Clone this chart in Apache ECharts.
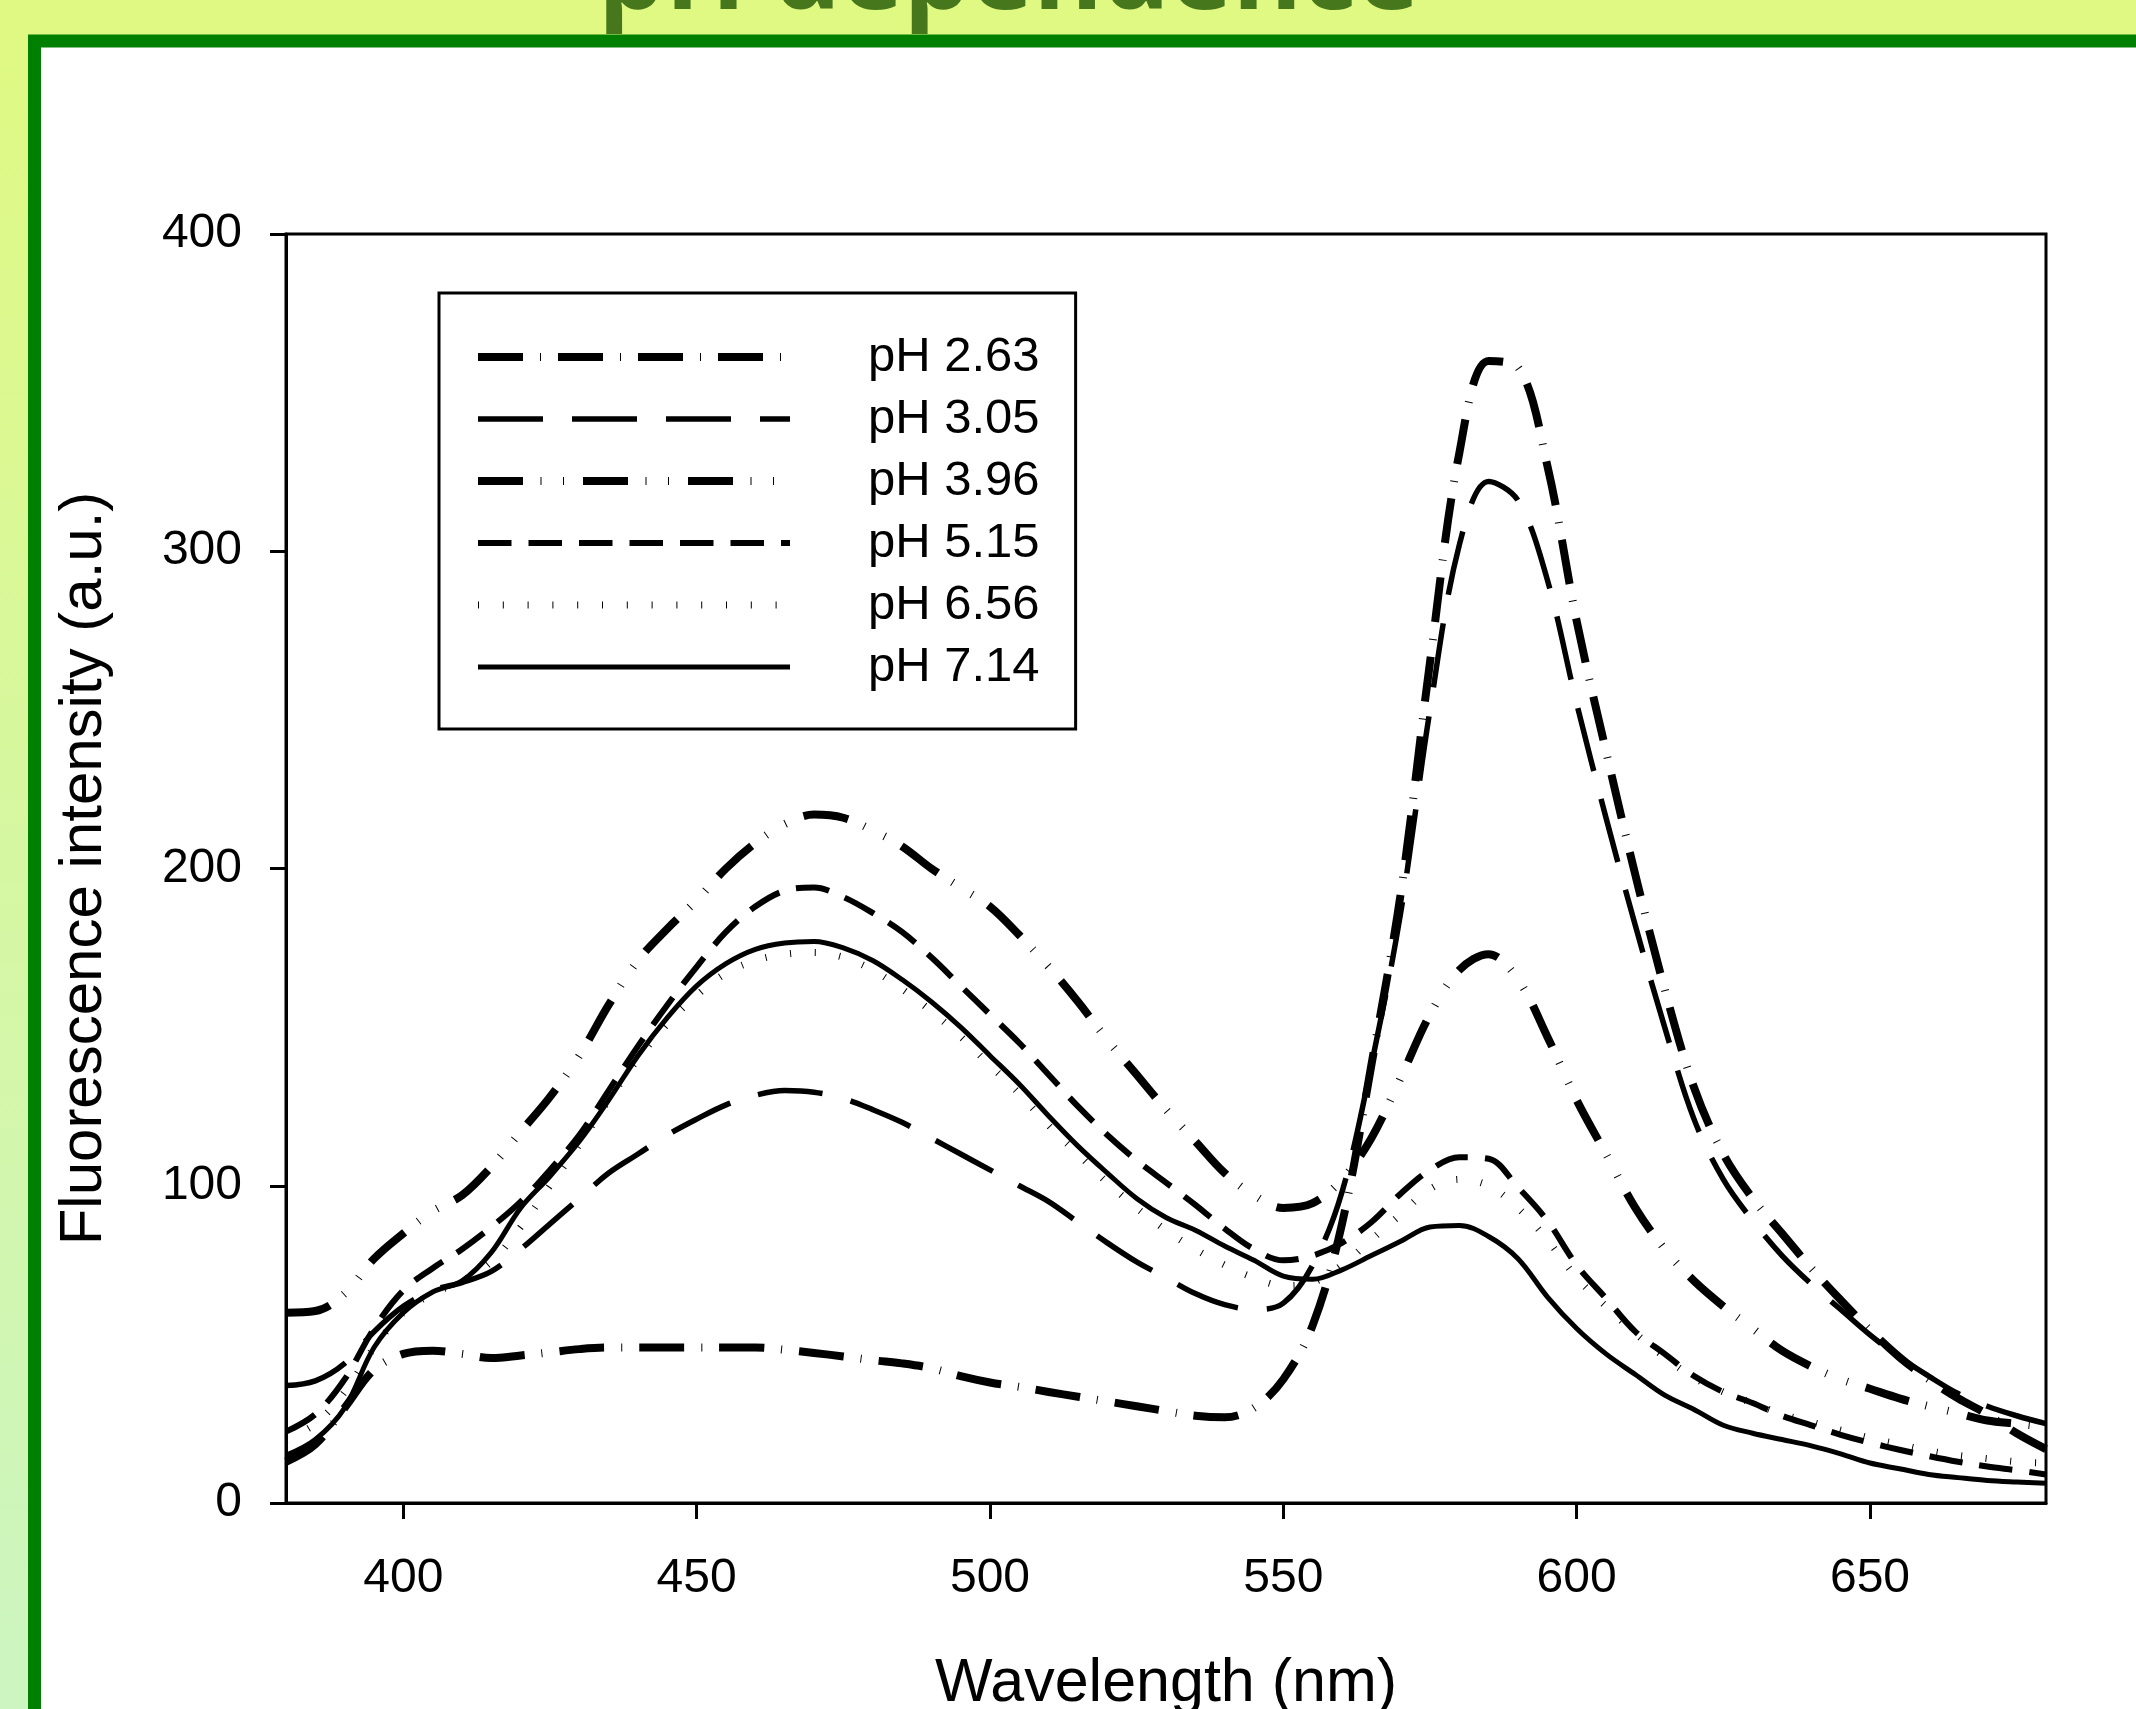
<!DOCTYPE html>
<html>
<head>
<meta charset="utf-8">
<script src="https://cdn.jsdelivr.net/npm/echarts@6/dist/echarts.min.js"></script>
<style>
html,body{margin:0;padding:0;width:2136px;height:1709px;overflow:hidden;background:#fff;}
#chart{width:2136px;height:1709px;}
</style>
</head>
<body>
<div id="chart"></div>
<script>
// ---- data ----
const wavelengths = [380,385,390,395,400,405,410,415,420,425,
  430,435,440,445,450,455,460,465,470,475,
  480,485,490,495,500,505,510,515,520,525,
  530,535,540,545,550,555,560,565,570,575,
  580,585,590,595,600,605,610,615,620,625,
  630,635,640,645,650,655,660,665,670,675,680];

const pH263 = [13,18.5,30,42,47,48,47,45.7,46.5,47.5,
  48.5,49,49,49,49,49,49,48.3,47.3,46.2,
  45,44,42.5,40,38,36.6,35,33.5,32,30.5,
  29,27.5,27,30,39,56,88,138,192,265,
  331,360,358,327,278,237,198,162,131,110,
  96,85,74,64,54.5,46,39,33,28,22,17];

const pH305 = [37,38.5,44,54,62,67,69.5,73,80,88,
  96,104,110,116,121,125.5,128.5,130,129.5,127.5,
  124,120,115,110,105,100,95,88.5,82,76,
  71,66,62.5,61,63,75,98,138,186,250,
  302,322,316,291,252,216,182,150,121,102,
  89,78,69,61,53,46,40,34.5,30.5,27.5,25];

const pH396 = [60,60.5,66,77,85,92,97,106,117,128,
  141,157,171,181,190,200,208,214,217,216,
  212,207,200,194,188,179,169,158,146,135,
  124,114,104,97,93,94.5,102,115,134,154,
  168,173,165,147,127,110,93,80,70,62,
  55,48,43,39,36,33,30.5,28.3,26,25,24];

const pH515 = [22.5,28,39,55,67,74,80,87,95,105,
  116,130,144,157,169,180,188,193,194,191,
  186,180,172,163,154,145,135,125,116,108,
  101,94,86.5,80,76.5,78,82,88.5,97.5,105,
  109,108.5,99.5,89,75,64.5,54,47,40,35,
  31.5,27.5,24.5,21.5,19,16.8,14.8,13,11.5,10.3,9];

const pH656 = [20,25,35,49,60,66,70,76,87,100,
  113,127,140,151,160,167,171,173,173.5,172,
  168,162,155,147,138,129,119,110,101,93,
  86,80,75,71,68.5,69.5,75,83,91,99,
  102,100,93,83,71,62,53.5,46,39.5,35,
  31.5,28,25.5,23,20.5,18.5,16.5,15,14,13,12.6];

const pH714 = [15,20,30,49,60,66.5,70,79,93,103,
  114,127,141,153,163,170,174.5,176.5,177,175,
  171,165,158,150,141,132,122,112.5,104,96,
  90,86,81,76.5,71.5,70.5,73.5,78,82.5,87,
  87.5,84,77,65,55,47,40.5,34,29.5,24.5,
  22,20,18,15.5,12.6,10.8,9,8,7.1,6.6,6.2];

const seriesNames = ['pH 2.63','pH 3.05','pH 3.96','pH 5.15','pH 6.56','pH 7.14'];
const seriesValues = [pH263, pH305, pH396, pH515, pH656, pH714];
const xTickValues = [400,450,500,550,600,650];
const yTickValues = [0,100,200,300,400];

// ---- styles ----
const lineStyles = [
  {width: 8, type: [45,17,1,17]},
  {width: 5.5, type: [65,29]},
  {width: 8, type: [45,17.5,1,21.5,1,19]},
  {width: 6, type: [33.5,17]},
  {width: 7, type: [1,23.8]},
  {width: 5, type: 'solid'}
];

const FONT = 'Liberation Sans, Arial, Helvetica, sans-serif';

const chart = echarts.init(document.getElementById('chart'), null, {renderer: 'canvas'});

const series = seriesNames.map((name, i) => ({
  name: name,
  type: 'line',
  data: wavelengths.map((w, j) => [w, seriesValues[i][j]]),
  showSymbol: false,
  symbol: 'none',
  smooth: 0.35,
  z: 3,
  color: '#000',
  itemStyle: {color: '#000'},
  lineStyle: {color: '#000', width: lineStyles[i].width, type: lineStyles[i].type, cap: 'butt', join: 'round'},
  emphasis: {disabled: true},
  animation: false
}));

chart.setOption({
  animation: false,
  graphic: [
    {type: 'rect', z: -10, silent: true,
     shape: {x: 0, y: 0, width: 2136, height: 1709},
     style: {fill: new echarts.graphic.LinearGradient(0, 0, 0, 1, [
       {offset: 0, color: '#e0f982'},
       {offset: 1, color: '#ccf5c1'}
     ])}},
    {type: 'rect', z: -9, silent: true,
     shape: {x: 34.5, y: 41, width: 2300, height: 1900},
     style: {fill: '#ffffff', stroke: '#008000', lineWidth: 13}}
  ],
  title: {
    text: 'pH dependence',
    left: 598,
    top: -74,
    padding: 0,
    z: 1,
    textStyle: {fontFamily: 'Open Sans, sans-serif', fontWeight: 'bold', fontSize: 106, color: '#47771d'}
  },
  grid: {
    left: 286, top: 234, right: 90, bottom: 206,
    outerBoundsMode: 'none',
    containLabel: false,
    show: true, borderColor: '#000', borderWidth: 3, backgroundColor: 'transparent'
  },
  legend: {
    data: seriesNames,
    orient: 'vertical',
    left: 439, top: 293,
    itemWidth: 312, itemHeight: 14, itemGap: 6,
    padding: [36, 36, 34, 35],
    borderColor: '#000', borderWidth: 3,
    selectedMode: false,
    itemStyle: {color: 'rgba(0,0,0,0)', borderColor: 'rgba(0,0,0,0)', borderWidth: 0, opacity: 0},
    lineStyle: {width: 'inherit', type: 'inherit', color: '#000', cap: 'butt'},
    textStyle: {fontFamily: FONT, fontSize: 49, color: '#000', lineHeight: 56, padding: [0,0,0,73]}
  },
  xAxis: {
    type: 'value', min: 380, max: 680,
    axisLine: {show: true, onZero: false, lineStyle: {color: '#000', width: 3}},
    axisTick: {show: true, length: 16, customValues: xTickValues, lineStyle: {color: '#000', width: 3}},
    axisLabel: {customValues: xTickValues, fontFamily: FONT, fontSize: 48, color: '#000', margin: 52},
    splitLine: {show: false},
    name: 'Wavelength (nm)', nameLocation: 'middle', nameGap: 151,
    nameTextStyle: {fontFamily: FONT, fontSize: 61, color: '#000'}
  },
  yAxis: {
    type: 'value', min: 0, max: 400, interval: 100,
    axisLine: {show: true, lineStyle: {color: '#000', width: 3}},
    axisTick: {show: true, length: 16, customValues: yTickValues, lineStyle: {color: '#000', width: 3}},
    axisLabel: {customValues: yTickValues, fontFamily: FONT, fontSize: 48, color: '#000', margin: 44},
    splitLine: {show: false},
    name: 'Fluorescence intensity (a.u.)', nameLocation: 'middle', nameGap: 172,
    nameTextStyle: {fontFamily: FONT, fontSize: 60, color: '#000'}
  },
  series: series
});
</script>
</body>
</html>
